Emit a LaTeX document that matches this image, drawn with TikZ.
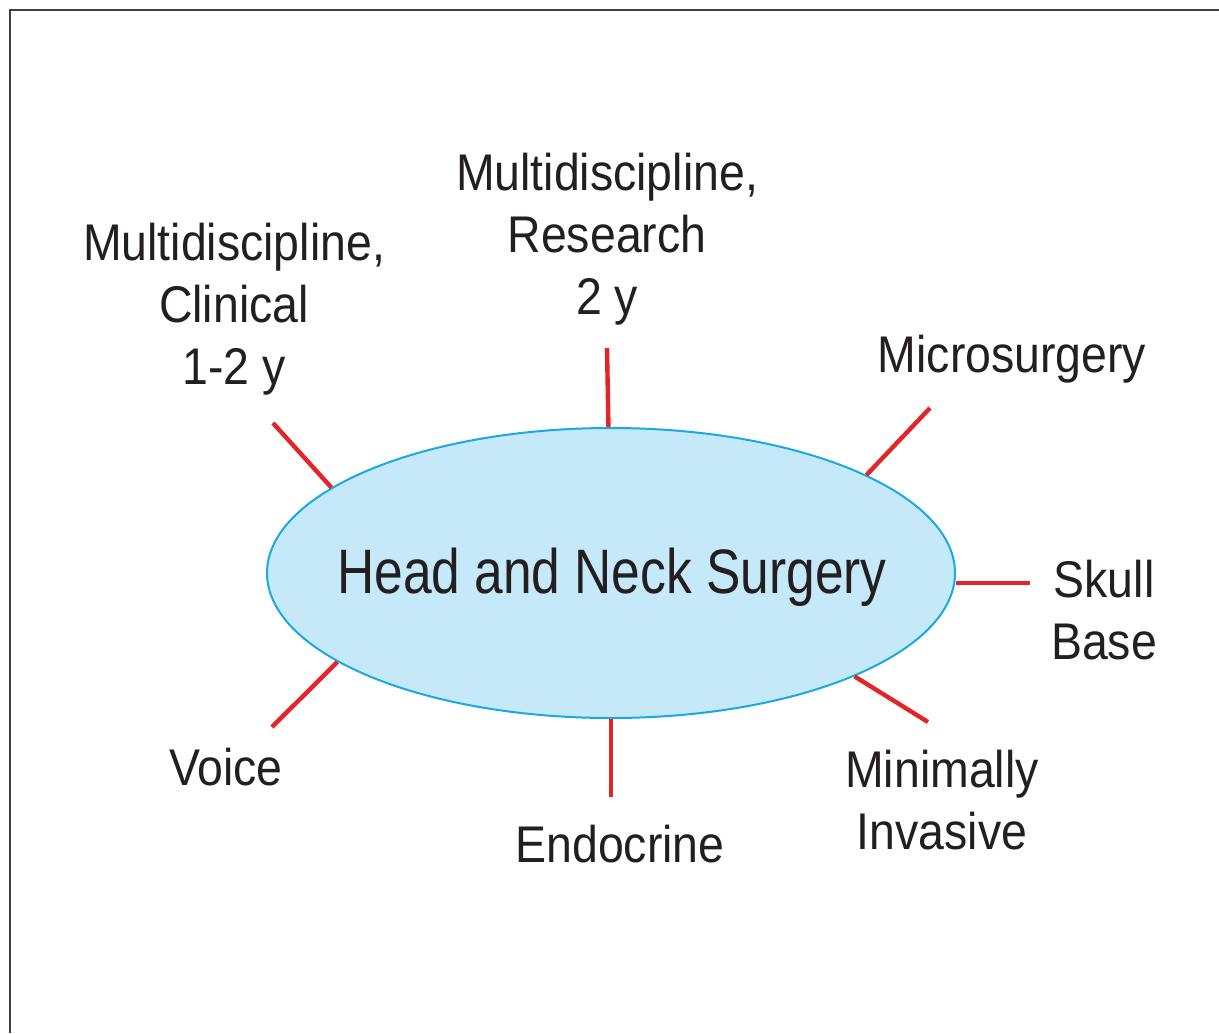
\documentclass[tikz,border=0pt]{standalone}
\usepackage{fontspec}
\setmainfont{Liberation Sans}[FakeStretch=0.9]
\newfontfamily\titlefont{Liberation Sans}[FakeStretch=0.82]
\usepackage{tikz}
\usetikzlibrary{shapes.geometric}
\definecolor{hnsfill}{HTML}{C6E9FA}
\definecolor{hnsline}{HTML}{1BA9E1}
\definecolor{spokered}{HTML}{E42527}
\definecolor{txtgray}{HTML}{231F20}

\begin{document}
\begin{tikzpicture}[x=0.5pt,y=-0.5pt,
  spoke/.style={draw=spokered,line width=2.2pt},
  lab/.style={anchor=north,inner sep=0pt,align=center,text=txtgray,
    font=\fontsize{25.8}{31}\selectfont}]
  \useasboundingbox (0,0) rectangle (1219,1033);
  \draw[line width=1pt,draw=black!75] (10,1033)--(10,10)--(1219,10);
  \node[ellipse,draw=hnsline,fill=hnsfill,line width=1pt,inner sep=0pt,
    minimum width=344pt,minimum height=145pt] (hns) at (611,573) {};
  \node[anchor=base,inner sep=0pt,text=txtgray,font=\titlefont\fontsize{31.4}{36}\selectfont]
    (title) at (612,593) {Head and Neck Surgery};
  \coordinate (resEnd) at (607,348);
  \coordinate (cliEnd) at (273,423);
  \coordinate (micEnd) at (930,408);
  \coordinate (skuEnd) at (1030,583);
  \coordinate (minEnd) at (928,722);
  \coordinate (endEnd) at (611,797);
  \coordinate (voiEnd) at (272,727);
  \draw[spoke] (hns.91.5) -- (resEnd);
  \draw[spoke] (hns.163.5) -- (cliEnd);
  \draw[spoke] (hns.21.5) -- (micEnd);
  \draw[spoke] (hns.east |- skuEnd) -- (skuEnd);
  \draw[spoke] (hns.-23.4) -- (minEnd);
  \draw[spoke] (hns.-90) -- (endEnd);
  \draw[spoke] (hns.-162.1) -- (voiEnd);
  \node[lab] (research) at (607,153) {Multidiscipline,\\Research\\2 y};
  \node[lab] (clinical) at (234,223) {Multidiscipline,\\Clinical\\1-2 y};
  \node[lab] (micro) at (1012,335) {Microsurgery};
  \node[lab] (skull) at (1104,560) {Skull\\Base};
  \node[lab] (minimal) at (942,750) {Minimally\\Invasive};
  \node[lab] (voice) at (226,748) {Voice};
  \node[lab] (endo) at (620,825) {Endocrine};
\end{tikzpicture}
\end{document}
